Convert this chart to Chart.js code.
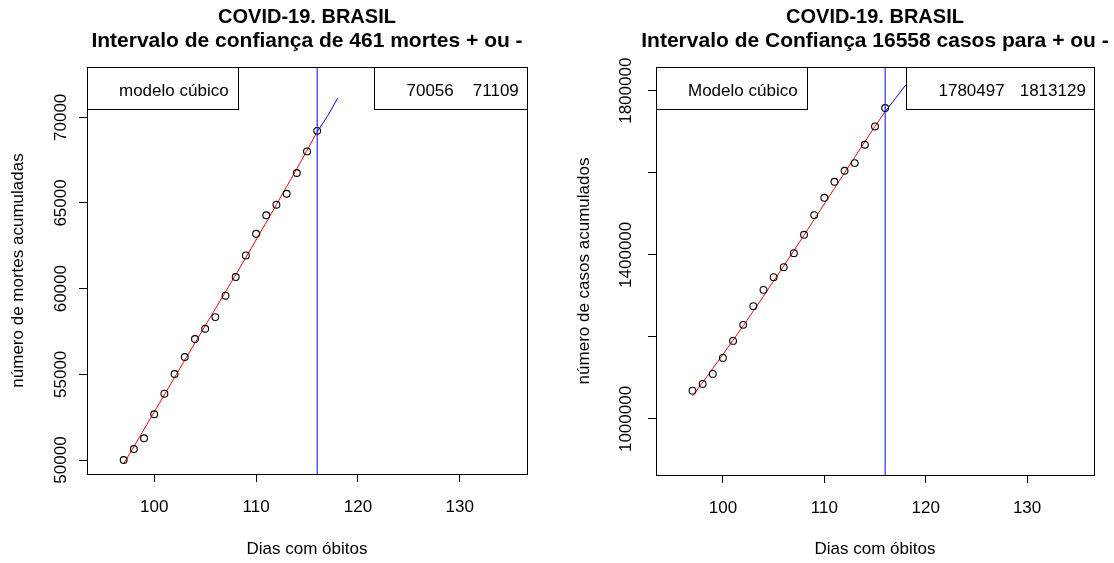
<!DOCTYPE html>
<html>
<head>
<meta charset="utf-8">
<script src="https://cdn.jsdelivr.net/npm/chart.js@4"></script>
<style>
  body { margin: 0; background: #fff; }
  #wrap { position: relative; width: 1114px; height: 563px; }
  canvas { position: absolute; top: 0; }
</style>
</head>
<body>
<div id="wrap">
  <canvas id="chartMortes" width="557" height="563" style="left:0"></canvas>
  <canvas id="chartCasos" width="557" height="563" style="left:557px"></canvas>
</div>
<script>
// dias observados
const days = [97, 98, 99, 100, 101, 102, 103, 104, 105, 106, 107, 108, 109, 110, 111, 112, 113, 114, 115, 116];

// mortes acumuladas (pontos) e ajuste cubico (linha vermelha)
const mortes = [50000, 50640, 51270, 52670, 53870, 55020, 56010, 57060, 57660, 58340,
                59590, 60680, 61940, 63200, 64280, 64900, 65540, 66750, 68010, 69210];
const mortesFit = [49780, 50780, 51790, 52800, 53810, 54820, 55830, 56830, 57830, 58820,
                   59810, 60810, 61820, 62840, 63870, 64910, 65950, 67000, 68070, 69150];

// casos acumulados (pontos) e ajuste cubico
const casos = [1069000, 1085400, 1109800, 1148800, 1190200, 1229300, 1274900, 1314600, 1345600, 1370000,
               1404100, 1448800, 1496800, 1539000, 1578000, 1604900, 1623600, 1668300, 1712900, 1757800];
const casosFit = [1056000, 1089000, 1123000, 1157000, 1192000, 1227000, 1263000, 1299000, 1336000, 1373000,
                  1410000, 1448000, 1486000, 1524000, 1562000, 1600000, 1638000, 1676000, 1713000, 1749000];

// previsao (linha azul)
const predDays = [117, 118];
const mortesPred = [70056, 71109];
const casosPred = [1780497, 1813129];

// eixos
const xTicks = [100, 110, 120, 130];
const mortesTicks = [50000, 55000, 60000, 65000, 70000];
const casosTicks = [1000000, 1200000, 1400000, 1600000, 1800000];
const casosTickLabels = [1000000, 1400000, 1800000];

Chart.defaults.font.family = "'Liberation Sans', Arial, sans-serif";
Chart.defaults.font.size = 17;
Chart.defaults.color = '#000';

const rPlot = {
  id: 'rPlot',
  afterDraw(chart, args, opts) {
    const ctx = chart.ctx;
    const a = chart.chartArea;
    ctx.save();
    // caixa do grafico
    ctx.strokeStyle = '#000';
    ctx.lineWidth = 1;
    ctx.strokeRect(Math.round(a.left) + 0.5, Math.round(a.top) + 0.5,
                   Math.round(a.right - a.left), Math.round(a.bottom - a.top));

    // legendas (topleft / topright)
    ctx.font = "17px 'Liberation Sans', Arial, sans-serif";
    ctx.textBaseline = 'middle';
    const boxH = 42;
    const top = Math.round(a.top) + 0.5;
    const ty = a.top + boxH / 2 + 3;
    const w1 = ctx.measureText(opts.leftLabel).width;
    const b1w = Math.round(32 + w1 + 9);
    ctx.fillStyle = '#fff';
    ctx.fillRect(Math.round(a.left) + 0.5, top, b1w, boxH);
    ctx.strokeRect(Math.round(a.left) + 0.5, top, b1w, boxH);
    ctx.fillStyle = '#000';
    ctx.textAlign = 'left';
    ctx.fillText(opts.leftLabel, a.left + 32, ty);

    const v1 = String(opts.values[0]), v2 = String(opts.values[1]);
    const wv1 = ctx.measureText(v1).width, wv2 = ctx.measureText(v2).width;
    const b2w = Math.round(32 + wv1 + opts.gap + wv2 + 9);
    const b2x = Math.round(a.right) - b2w + 0.5;
    ctx.fillStyle = '#fff';
    ctx.fillRect(b2x, top, b2w, boxH);
    ctx.strokeRect(b2x, top, b2w, boxH);
    ctx.fillStyle = '#000';
    ctx.fillText(v1, b2x + 32, ty);
    ctx.fillText(v2, b2x + 32 + wv1 + opts.gap, ty);

    // titulo
    const cx = (a.left + a.right) / 2;
    ctx.textAlign = 'center';
    ctx.textBaseline = 'alphabetic';
    ctx.font = "bold 20px 'Liberation Sans', Arial, sans-serif";
    ctx.fillText(opts.title[0], cx, 23);
    ctx.font = "bold 21px 'Liberation Sans', Arial, sans-serif";
    ctx.fillText(opts.title[1], cx, 47);
    ctx.restore();
  }
};

function makePanel(id, p) {
  const cut = days[days.length - 1];
  const pts = days.map((d, i) => ({x: d, y: p.obs[i]}));
  const fit = days.map((d, i) => ({x: d, y: p.fit[i]}));
  const pred = [{x: cut, y: p.fit[p.fit.length - 1]}]
    .concat(predDays.map((d, i) => ({x: d, y: p.pred[i]})));
  const vline = [{x: cut, y: p.yMin}, {x: cut, y: p.yMax}];

  return new Chart(document.getElementById(id).getContext('2d'), {
    type: 'line',
    data: {
      datasets: [
        { data: vline, borderColor: '#0000ff', borderWidth: 1, pointRadius: 0 },
        { data: pts, showLine: false, pointRadius: 3.4, pointBorderColor: '#000',
          pointBackgroundColor: 'rgba(0,0,0,0)', pointBorderWidth: 1.1 },
        { data: fit, borderColor: '#ff0000', borderWidth: 1, pointRadius: 0, tension: 0 },
        { data: pred, borderColor: '#0000ff', borderWidth: 1, pointRadius: 0, tension: 0 }
      ]
    },
    options: {
      responsive: false,
      animation: false,
      events: [],
      layout: { padding: { top: 67, right: p.padRight, bottom: 0, left: 0 } },
      plugins: {
        legend: { display: false },
        tooltip: { enabled: false },
        rPlot: { leftLabel: p.legend, values: p.pred, title: p.title, gap: p.gap }
      },
      scales: {
        x: {
          type: 'linear', min: 93.4, max: 136.6,
          afterBuildTicks: s => { s.ticks = xTicks.map(v => ({value: v})); },
          afterFit: s => { s.height = p.xHeight; },
          grid: { drawOnChartArea: false, tickLength: 8, color: '#000', tickColor: '#000' },
          border: { display: false },
          ticks: { padding: 15, maxRotation: 0, callback: v => String(v) },
          title: { display: true, text: 'Dias com óbitos', padding: { top: 0, bottom: 3 } }
        },
        y: {
          type: 'linear', min: p.yMin, max: p.yMax,
          afterBuildTicks: s => { s.ticks = p.yTicks.map(v => ({value: v})); },
          afterFit: s => { s.width = p.yWidth; },
          grid: { drawOnChartArea: false, tickLength: 8, color: '#000', tickColor: '#000' },
          border: { display: false },
          ticks: { minRotation: 90, maxRotation: 90, crossAlign: 'center', padding: p.yPad,
                   callback: v => p.yLabels.includes(v) ? String(v) : '' },
          title: { display: true, text: p.yTitle, padding: { top: p.yTitlePad, bottom: 0 } }
        }
      }
    },
    plugins: [rPlot]
  });
}

makePanel('chartMortes', {
  obs: mortes, fit: mortesFit, pred: mortesPred,
  yMin: 49183, yMax: 72936, yTicks: mortesTicks, yLabels: mortesTicks,
  yTitle: 'número de mortes acumuladas', legend: 'modelo cúbico',
  title: ['COVID-19. BRASIL', 'Intervalo de confiança de 461 mortes + ou -'],
  padRight: 30, yWidth: 87, xHeight: 89, yPad: -6, yTitlePad: 8, gap: 19
});

makePanel('chartCasos', {
  obs: casos, fit: casosFit, pred: casosPred,
  yMin: 863400, yMax: 1857800, yTicks: casosTicks, yLabels: casosTickLabels,
  yTitle: 'número de casos acumulados', legend: 'Modelo cúbico',
  title: ['COVID-19. BRASIL', 'Intervalo de Confiança 16558 casos para + ou -'],
  padRight: 20, yWidth: 99, xHeight: 88, yPad: -11, yTitlePad: 17, gap: 15
});
</script>
</body>
</html>
